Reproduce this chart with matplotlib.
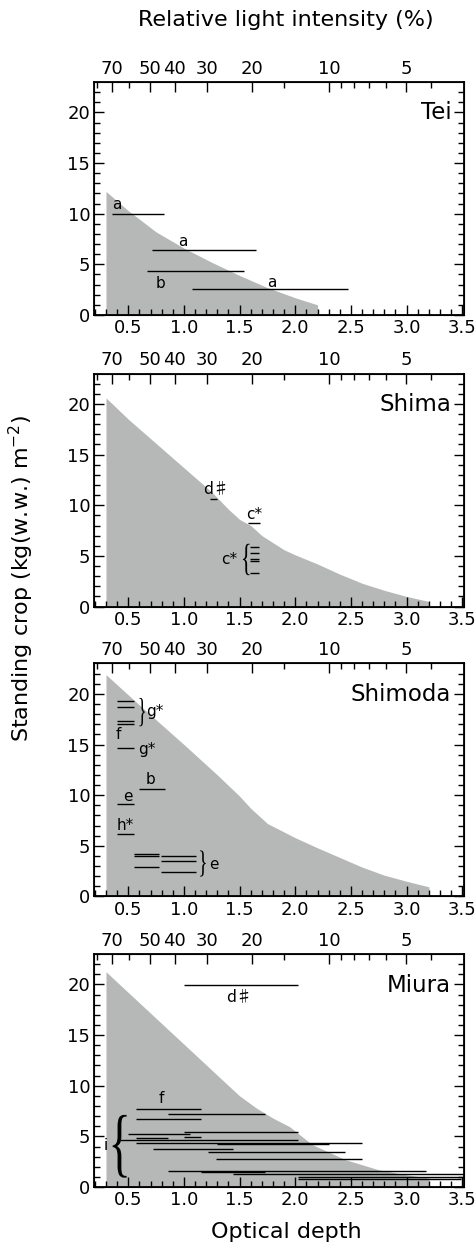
import numpy as np
import matplotlib
matplotlib.use('Agg')
from matplotlib import pyplot as plt
from matplotlib.textpath import TextPath
from matplotlib.patches import PathPatch
from matplotlib.font_manager import FontProperties
import matplotlib.transforms as mtransforms

plt.rcParams['font.family'] = ['DejaVu Sans']

# gray envelopes (optical depth vs standing crop)
tei_x = [0.3, 0.5, 0.75, 1.0, 1.25, 1.5, 1.75, 2.0, 2.2]
tei_y = [12.2, 10.3, 8.2, 6.6, 5.2, 3.9, 2.7, 1.7, 1.0]

shima_x = [0.3, 0.5, 1.0, 1.25, 1.4, 1.5, 1.6, 1.7, 1.9, 2.0, 2.2, 2.4, 2.6, 2.8, 3.0, 3.2]
shima_y = [20.6, 18.5, 13.7, 11.3, 9.6, 8.6, 8.0, 7.0, 5.6, 5.1, 4.2, 3.2, 2.3, 1.6, 1.0, 0.5]

shimoda_x = [0.3, 0.6, 1.0, 1.3, 1.5, 1.6, 1.75, 2.0, 2.2, 2.4, 2.6, 2.8, 3.0, 3.2]
shimoda_y = [21.9, 18.9, 15.0, 12.0, 9.9, 8.7, 7.2, 5.8, 4.8, 3.85, 2.9, 2.1, 1.5, 0.95]

miura_x = [0.3, 1.0, 1.45, 1.5, 1.65, 1.8, 1.95, 2.15, 2.45, 2.75, 3.0, 3.2]
miura_y = [21.25, 14.1, 9.5, 9.0, 7.8, 6.8, 5.95, 4.2, 2.7, 1.7, 1.2, 0.9]

# horizontal ranges: start, end, standing crop
tei_x0 = [0.357, 0.716, 0.671, 1.075]
tei_x1 = [0.823, 1.646, 1.541, 2.47]
tei_h = [10.0, 6.43, 4.36, 2.56]

shima_x0 = [1.237, 1.577, 1.59, 1.59, 1.59, 1.59, 1.59]
shima_x1 = [1.30, 1.68, 1.676, 1.676, 1.676, 1.676, 1.676]
shima_h = [10.6, 8.26, 5.84, 5.31, 4.72, 4.46, 3.35]

shimoda_x0 = [0.396, 0.396, 0.396, 0.396, 0.396, 0.60, 0.396, 0.396,
              0.554, 0.554, 0.554, 0.794, 0.794, 0.794]
shimoda_x1 = [0.551, 0.551, 0.551, 0.551, 0.551, 0.83, 0.551, 0.551,
              0.778, 0.778, 0.778, 1.108, 1.108, 1.108]
shimoda_h = [19.25, 18.66, 17.28, 17.0, 14.65, 10.63, 9.12, 6.16,
             4.21, 3.95, 2.9, 3.95, 3.55, 2.37]

miura_x0 = [1.0, 0.57, 0.86, 0.57, 1.0, 0.5, 0.57, 1.0, 0.425, 0.57, 1.3,
            0.72, 1.22, 1.29, 0.86, 1.15, 1.44, 2.02, 2.02]
miura_x1 = [2.02, 1.15, 1.73, 1.15, 2.02, 1.05, 0.86, 1.15, 2.02, 2.6, 2.3,
            1.44, 2.45, 2.6, 3.17, 1.73, 3.6, 3.6, 3.49]
miura_h = [19.93, 7.7, 7.2, 6.69, 5.46, 5.2, 4.85, 4.9, 4.6, 4.3, 4.2,
           3.71, 3.45, 2.72, 1.58, 1.52, 1.25, 1.0, 0.78]

# top axis: relative light intensity (%)
light_major = [70, 50, 40, 30, 20, 10, 5]
light_minor = [80, 60, 15, 9, 8, 7, 6, 4]

panels = [
    ('Tei', tei_x, tei_y, tei_x0, tei_x1, tei_h),
    ('Shima', shima_x, shima_y, shima_x0, shima_x1, shima_h),
    ('Shimoda', shimoda_x, shimoda_y, shimoda_x0, shimoda_x1, shimoda_h),
    ('Miura', miura_x, miura_y, miura_x0, miura_x1, miura_h),
]

# annotations per panel: (x, y, text)
notes = {
    'Tei': [(0.395, 10.9, 'a'), (0.994, 7.25, 'a'), (0.79, 3.1, 'b'), (1.79, 3.25, 'a')],
    'Shima': [(1.29, 11.6, 'd\u266f'), (1.63, 9.1, 'c*'), (1.41, 4.6, 'c*')],
    'Shimoda': [(0.74, 18.3, 'g*'), (0.41, 16.0, 'f'), (0.67, 14.5, 'g*'),
                (0.70, 11.5, 'b'), (0.50, 9.9, 'e'), (0.47, 7.0, 'h*'), (1.27, 3.2, 'e')],
    'Miura': [(1.495, 18.7, 'd\u266f'), (0.80, 8.7, 'f'), (0.30, 4.1, 'i')],
}

# braces: (x_left, width, y_bottom, y_top, char)
braces = {
    'Tei': [],
    'Shima': [(1.53, 0.06, 3.1, 6.2, '{')],
    'Shimoda': [(0.60, 0.05, 16.8, 19.6, '}'), (1.144, 0.053, 1.97, 4.54, '}')],
    'Miura': [(0.36, 0.125, 0.93, 7.12, '{')],
}

gray = '#b6b7b7'
bottoms = [0.7488, 0.5163, 0.2851, 0.0534]
fig = plt.figure(figsize=(4.77, 12.54), dpi=100)


def draw_brace(ax, x, w, y0, y1, ch):
    tp = TextPath((0, 0), ch, size=1, prop=FontProperties(family='Liberation Serif'))
    bb = tp.get_extents()
    tr = (mtransforms.Affine2D().translate(-bb.x0, -bb.y0)
          .scale(1.0 / bb.width, 1.0 / bb.height)
          .scale(w, y1 - y0).translate(x, y0) + ax.transData)
    ax.add_patch(PathPatch(tp, transform=tr, facecolor='black', edgecolor='none'))


for (name, cx, cy, x0, x1, h), b in zip(panels, bottoms):
    ax = fig.add_axes([0.1977, b, 0.775, 0.1858])
    ax.fill_between(cx, cy, 0, color=gray, lw=0)
    ax.hlines(h, x0, x1, color='black', lw=1.0)
    for tx, ty, s in notes[name]:
        if '\u266f' in s:
            ax.text(tx, ty, s, fontsize=11.5, ha='center', va='center',
                    family=['Noto Sans CJK JP', 'DejaVu Sans'])
        else:
            ax.text(tx, ty, s, fontsize=11, ha='center', va='center')
    for bx, bw, by0, by1, ch in braces[name]:
        draw_brace(ax, bx, bw, by0, by1, ch)
    ax.text(3.40, 19.3, name, fontsize=16.5, ha='right', va='baseline')

    ax.set_xlim(0.195, 3.515)
    ax.set_ylim(0, 23)
    ax.set_xticks(np.arange(0.5, 3.51, 0.5))
    ax.set_xticklabels(['%.1f' % v for v in np.arange(0.5, 3.51, 0.5)])
    ax.set_xticks(np.arange(0.2, 3.51, 0.1), minor=True)
    ax.set_yticks([0, 5, 10, 15, 20])
    ax.set_yticks(np.arange(0, 23, 1), minor=True)
    ax.tick_params(which='both', direction='in', top=False, right=True, width=1.0,
                   labelsize=13, pad=3)
    ax.tick_params(which='major', length=7)
    ax.tick_params(which='minor', length=4)
    for sp in ax.spines.values():
        sp.set_linewidth(1.3)

    top = ax.twiny()
    top.set_xlim(ax.get_xlim())
    top.set_xticks([-np.log(p / 100.0) for p in light_major])
    top.set_xticklabels([str(p) for p in light_major])
    top.set_xticks([-np.log(p / 100.0) for p in light_minor], minor=True)
    top.tick_params(which='both', direction='in', width=1.0, labelsize=13, pad=3)
    top.tick_params(which='major', length=7)
    top.tick_params(which='minor', length=4)

fig.text(0.6, 0.984, 'Relative light intensity (%)', fontsize=16, ha='center', va='center')
fig.text(0.6, 0.0175, 'Optical depth', fontsize=16, ha='center', va='center')
fig.text(0.044, 0.539, 'Standing crop (kg(w.w.) m$^{-2}$)', fontsize=16,
         rotation=90, ha='center', va='center')

fig.savefig('out.png', dpi=100)
